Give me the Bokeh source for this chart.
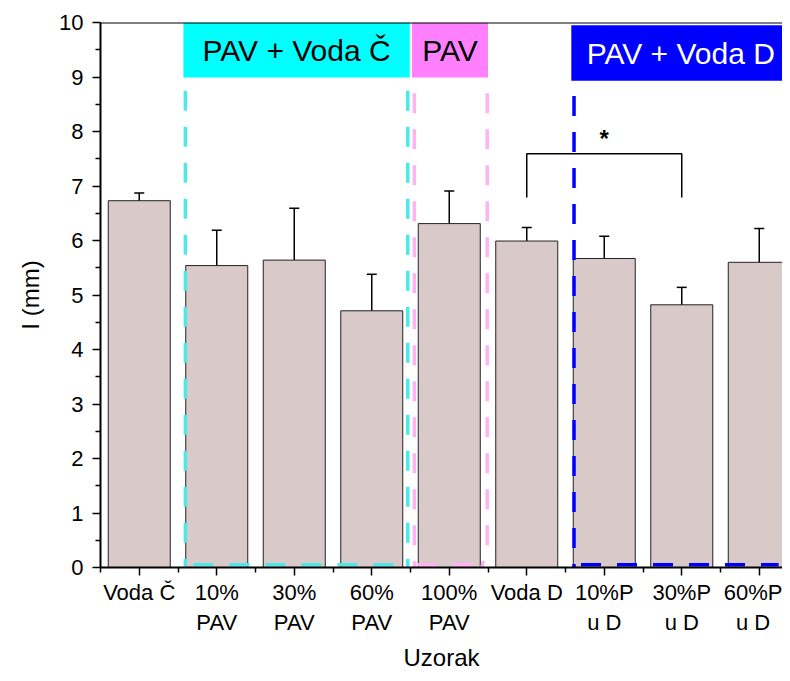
from bokeh.plotting import figure
from bokeh.models import (Range1d, FixedTicker, Whisker, ColumnDataSource, TeeHead, Span)
from bokeh.core.properties import value
from bokeh.embed import file_html
from bokeh.resources import INLINE

# ---- data ----
categories = ["Voda Č", "10%\nPAV", "30%\nPAV", "60%\nPAV", "100%\nPAV",
              "Voda D", "10%P\nu D", "30%P\nu D", "60%P\nu D"]
means = [6.73, 5.54, 5.64, 4.71, 6.31, 5.99, 5.67, 4.82, 5.60]
errors = [0.14, 0.65, 0.95, 0.67, 0.60, 0.25, 0.41, 0.32, 0.62]

# group annotation boxes
box_labels = ["PAV + Voda Č", "PAV", "PAV + Voda D"]
box_left = [0.57, 3.52, 5.575]
box_right = [3.49, 4.50, 8.4]
box_bottom = [8.99, 8.99, 8.93]
box_top = [10.0, 10.0, 9.95]
box_fill = ["#00ffff", "#ff80ff", "#0000ff"]
box_text_color = ["black", "black", "white"]

# significance bracket between Voda D (5) and 30%P u D (7)
bracket_x = [5, 5, 7, 7]
bracket_y = [6.79, 7.59, 7.59, 6.79]

FONT = "Liberation Sans"
X_MAX = 8.3

xs = list(range(len(categories)))
src = ColumnDataSource(dict(x=xs, top=means,
                            upper=[m + e for m, e in zip(means, errors)],
                            lower=[m - e for m, e in zip(means, errors)]))

p = figure(width=782, height=673, output_backend="svg", toolbar_location=None,
           x_range=Range1d(-0.5, X_MAX), y_range=Range1d(0, 10),
           min_border_left=100, min_border_right=0, min_border_top=22,
           min_border_bottom=97)
p.outline_line_color = None
p.grid.visible = False
p.background_fill_color = "white"

# bars
p.vbar(x="x", top="top", width=0.8, bottom=0, source=src,
       fill_color="#d9c9c9", line_color="#222222", line_width=1)

# error bars
w = Whisker(base="x", upper="upper", lower="lower", source=src,
            line_color="black", line_width=1.5,
            upper_head=TeeHead(size=10, line_width=1.5, line_color="black"),
            lower_head=TeeHead(size=10, line_width=1.5, line_color="black"))
p.add_layout(w)

# group boxes
for lab, l, r, b, t, fc, tc in zip(box_labels, box_left, box_right, box_bottom,
                                    box_top, box_fill, box_text_color):
    p.quad(left=[l], right=[r], bottom=[b], top=[t], fill_color=fc, line_color=None)
    p.text(x=[(l + r) / 2], y=[(b + t) / 2], text=[lab],
           text_font=value(FONT), text_font_size="30px", text_color=tc,
           text_align="center", text_baseline="middle")

# dashed group lines
dash = "20 16"
cyan_d = "#4de8e8"
pink_d = "#ffb3f3"
blue_d = "#0000ff"
p.line([0.595, 0.595], [8.75, 0.0], line_color=cyan_d, line_width=3.5, line_dash=dash)
p.line([3.465, 3.465], [8.75, 0.0], line_color=cyan_d, line_width=3.5, line_dash=dash)
p.line([0.70, 3.40], [0.05, 0.05], line_color=cyan_d, line_width=3.5, line_dash=dash)
p.line([3.55, 3.55], [8.7, 0.0], line_color=pink_d, line_width=3.5, line_dash=dash)
p.line([4.49, 4.49, 4.42], [8.7, 0.4, 0.0], line_color=pink_d, line_width=3.5, line_dash=dash)
p.line([3.58, 4.32], [0.05, 0.05], line_color=pink_d, line_width=3.5, line_dash=dash)
p.line([5.61, 5.61], [8.65, 0.0], line_color=blue_d, line_width=3.5, line_dash=dash)
p.line([5.70, 8.25], [0.05, 0.05], line_color=blue_d, line_width=3.5, line_dash=dash)

# significance bracket
p.line(bracket_x, bracket_y, line_color="black", line_width=1.5)
p.text(x=[6], y=[7.62], text=["*"], text_font=value(FONT), text_font_size="24px",
       text_font_style="bold", text_align="center", text_baseline="bottom")

# top border
p.add_layout(Span(location=10, dimension="width", line_color="black", line_width=2))

# axes
xa = p.xaxis[0]
xa.ticker = FixedTicker(ticks=xs, minor_ticks=[i - 0.5 for i in range(10)])
xa.major_label_overrides = {i: c for i, c in enumerate(categories)}
xa.axis_label = "Uzorak"
ya = p.yaxis[0]
ya.ticker = FixedTicker(ticks=list(range(11)), minor_ticks=[i + 0.5 for i in range(10)])
ya.axis_label = "I (mm)"

for ax in (xa, ya):
    ax.axis_line_width = 2
    ax.major_tick_line_width = 1.5
    ax.minor_tick_line_width = 1.5
    ax.major_tick_out = 8
    ax.major_tick_in = 0
    ax.minor_tick_out = 5
    ax.minor_tick_in = 0
    ax.major_label_text_font = FONT
    ax.major_label_text_font_size = "22px"
    ax.major_label_text_color = "black"
    ax.axis_label_text_font = FONT
    ax.axis_label_text_font_size = "24px"
    ax.axis_label_text_font_style = "normal"
    ax.axis_label_text_color = "black"

xa.major_label_standoff = 4
xa.axis_label_standoff = 6
ya.major_label_standoff = 9
ya.axis_label_standoff = 12

open("out.html", "w").write(file_html(p, INLINE))
